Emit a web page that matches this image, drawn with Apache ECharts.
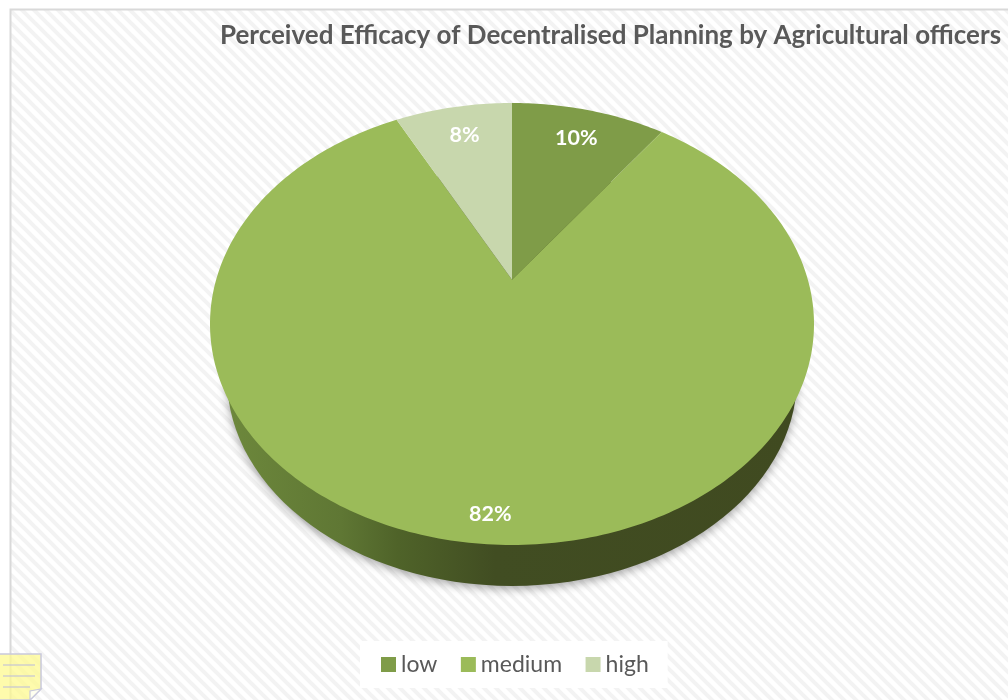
<!DOCTYPE html>
<html><head><meta charset="utf-8">
<style>html,body{margin:0;padding:0;background:#fff}#c{width:1008px;height:700px}</style>
<script src="https://cdn.jsdelivr.net/npm/echarts@6/dist/echarts.min.js"></script>
</head><body><div id="c"></div>
<script>
const categories = ['low', 'medium', 'high'];
const values = [10, 82.4, 7.6];
const colors = ['#7f9c48', '#9bbb59', '#c8d7ad'];
const titleText = 'Perceived Efficacy of Decentralised Planning by Agricultural officers';

// disc layout (projected circle in perspective)
const cx = 512, cy = 324, rx = 302, ry = 221, persp = 0.2;
// underside of the disc, slightly smaller because it is further from the viewer
const wallRx = 285, wallRy = 208.4, wallCy = 377.6;
const labelRadii = [0.82, 0.905, 0.82];
const labelShiftX = [-0.5, 3, 2];

function project(r, a) { // a: clockwise from 12 o'clock, r: 0..1 on the disc
  const x = r * Math.sin(a), y = r * Math.cos(a);
  const d = 1 + persp * y;
  const s = Math.sqrt(1 - persp * persp);
  return [cx + rx * x * s / d, cy - ry * (y + persp) / d];
}
const total = values.reduce((a, b) => a + b, 0);
function angleAt(i) {
  let s = 0; for (let k = 0; k < i; k++) s += values[k];
  return s / total * Math.PI * 2;
}
function slicePoints(i) {
  const a0 = angleAt(i), a1 = angleAt(i + 1);
  const pts = [project(0, 0)];
  const n = Math.max(8, Math.ceil((a1 - a0) * 60));
  for (let k = 0; k <= n; k++) pts.push(project(1, a0 + (a1 - a0) * k / n));
  return pts;
}

const tile = document.createElement('canvas');
tile.width = tile.height = 12;
const g = tile.getContext('2d');
g.fillStyle = '#ffffff'; g.fillRect(0, 0, 12, 12);
g.strokeStyle = '#f3f3f3'; g.lineWidth = 4;
[[-6, -6, 18, 18], [-6, 6, 6, 18], [6, -6, 18, 6]].forEach(l => { g.beginPath(); g.moveTo(l[0], l[1]); g.lineTo(l[2], l[3]); g.stroke(); });

const wallSeries = {
  type: 'custom', coordinateSystem: 'none', silent: true, z: 2,
  data: [[0]],
  renderItem: () => ({
    type: 'ellipse',
    shape: { cx: cx, cy: wallCy, rx: wallRx, ry: wallRy },
    style: {
      fill: new echarts.graphic.LinearGradient(0, 0, 1, 0, [
        { offset: 0, color: '#6d883c' }, { offset: 0.2, color: '#5f7734' },
        { offset: 0.3, color: '#4f6329' }, { offset: 0.47, color: '#414d22' },
        { offset: 1, color: '#404a20' }]),
      shadowBlur: 10, shadowColor: 'rgba(0,0,0,0.35)', shadowOffsetY: 3
    }
  })
};
const sliceSeries = categories.map((name, i) => ({
  name, type: 'custom', coordinateSystem: 'none', silent: true, z: 3,
  itemStyle: { color: colors[i] },
  data: [[values[i]]],
  renderItem: (params, api) => {
    const mid = (angleAt(i) + angleAt(i + 1)) / 2;
    const p = project(labelRadii[i], mid);
    return {
      type: 'group',
      children: [
        { type: 'polygon', shape: { points: slicePoints(i) }, style: { fill: colors[i] } },
        { type: 'text', x: p[0] + labelShiftX[i], y: p[1] + 1, z2: 10,
          style: { text: Math.round(api.value(0)) + '%', fill: '#ffffff', align: 'center', verticalAlign: 'middle',
                   font: 'bold 21.5px Lato, Carlito, sans-serif' } }
      ]
    };
  }
}));

const note = { type: 'group', z: 20, silent: true, children: [
  { type: 'polygon', shape: { points: [[-2, 654], [41, 654], [41, 689], [30, 700], [-2, 700]] },
    style: { fill: 'rgba(254,249,140,0.72)', stroke: '#c9c9dc', lineWidth: 1.5 } },
  { type: 'line', shape: { x1: 3, y1: 665, x2: 35, y2: 665 }, style: { stroke: '#c5c5d5', lineWidth: 1.2 } },
  { type: 'line', shape: { x1: 3, y1: 676, x2: 35, y2: 676 }, style: { stroke: '#c5c5d5', lineWidth: 1.2 } },
  { type: 'line', shape: { x1: 3, y1: 687, x2: 30, y2: 687 }, style: { stroke: '#c5c5d5', lineWidth: 1.2 } },
  { type: 'polygon', shape: { points: [[30, 700], [30, 691], [41, 689]] },
    style: { fill: '#fffff0', stroke: '#c9c9dc', lineWidth: 1.2 } }
]};

const chart = echarts.init(document.getElementById('c'), null, { renderer: 'canvas' });
chart.setOption({
  animation: false,
  backgroundColor: '#ffffff',
  title: { text: titleText, left: 215, top: 18,
    textStyle: { fontFamily: 'Lato, Carlito, sans-serif', fontWeight: 'bold', fontSize: 26, color: '#595959' } },
  legend: {
    data: categories, left: 360, top: 641, orient: 'horizontal', icon: 'rect',
    padding: [12, 19, 12, 21], itemWidth: 15, itemHeight: 15, itemGap: 23.5,
    backgroundColor: 'rgba(255,255,255,0.95)', selectedMode: false,
    textStyle: { fontFamily: 'Lato, Carlito, sans-serif', fontSize: 23, color: '#595959' }
  },
  graphic: [
    { type: 'rect', z: -10, silent: true, shape: { x: 10.5, y: 9.5, width: 1100, height: 800 },
      style: { fill: { image: tile, repeat: 'repeat' }, stroke: '#d9d9d9', lineWidth: 2 } },
    note
  ],
  series: [wallSeries].concat(sliceSeries)
});
</script></body></html>
